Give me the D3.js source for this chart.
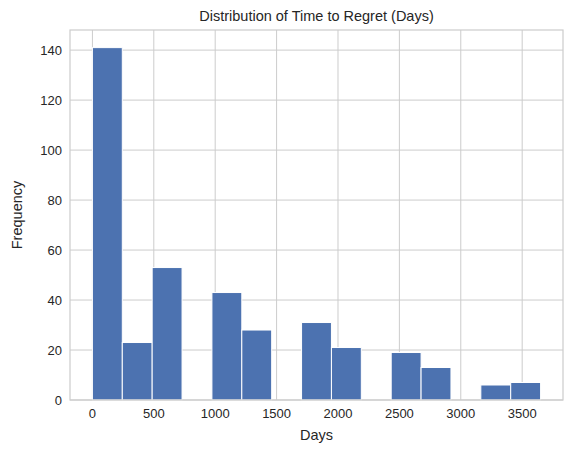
<!DOCTYPE html>
<html><head><meta charset="utf-8">
<script src="https://cdn.jsdelivr.net/npm/d3@7"></script>
<style>body{margin:0;background:#fff;font-family:"Liberation Sans",Arial,sans-serif}</style>
</head><body><svg id="c" width="575" height="457"></svg>
<script>
const binStart = 0, binEnd = 3650;
const counts = [141, 23, 53, 0, 43, 28, 0, 31, 21, 0, 19, 13, 0, 6, 7];
const xTicks = [0, 500, 1000, 1500, 2000, 2500, 3000, 3500];
const yTicks = [0, 20, 40, 60, 80, 100, 120, 140];

const svg = d3.select("#c");
const L = 70, R = 563, T = 30, B = 400;
const pad = (binEnd - binStart) * 0.05;
const x = d3.scaleLinear().domain([binStart - pad, binEnd + pad]).range([L, R]);
const y = d3.scaleLinear().domain([0, d3.max(counts) * 1.05]).range([B, T]);
const bw = (binEnd - binStart) / counts.length;

svg.append("g").selectAll("line").data(xTicks).join("line")
  .attr("x1", d => x(d)).attr("x2", d => x(d)).attr("y1", T).attr("y2", B)
  .attr("stroke", "#cccccc").attr("stroke-width", 1);
svg.append("g").selectAll("line").data(yTicks).join("line")
  .attr("y1", d => y(d)).attr("y2", d => y(d)).attr("x1", L).attr("x2", R)
  .attr("stroke", "#cccccc").attr("stroke-width", 1);

svg.append("g").selectAll("rect").data(counts).join("rect")
  .attr("x", (d, i) => x(binStart + i * bw))
  .attr("width", (d, i) => x(binStart + (i + 1) * bw) - x(binStart + i * bw))
  .attr("y", d => y(d)).attr("height", d => B - y(d))
  .attr("fill", "#4c72b0").attr("stroke", "#ffffff").attr("stroke-width", 1);

svg.append("rect").attr("x", L).attr("y", T).attr("width", R - L).attr("height", B - T)
  .attr("fill", "none").attr("stroke", "#cccccc").attr("stroke-width", 1.2);

svg.append("g").selectAll("text").data(xTicks).join("text")
  .attr("x", d => x(d)).attr("y", B + 18).attr("text-anchor", "middle")
  .attr("font-size", 13).attr("fill", "#262626").text(d => d);
svg.append("g").selectAll("text").data(yTicks).join("text")
  .attr("x", L - 8).attr("y", d => y(d) + 4.5).attr("text-anchor", "end")
  .attr("font-size", 13).attr("fill", "#262626").text(d => d);

svg.append("text").attr("x", (L + R) / 2).attr("y", 21).attr("text-anchor", "middle")
  .attr("font-size", 14.5).attr("fill", "#262626").text("Distribution of Time to Regret (Days)");
svg.append("text").attr("x", (L + R) / 2).attr("y", 440).attr("text-anchor", "middle")
  .attr("font-size", 14.5).attr("fill", "#262626").text("Days");
svg.append("text").attr("transform", `translate(22,${(T + B) / 2}) rotate(-90)`).attr("text-anchor", "middle")
  .attr("font-size", 14.5).attr("fill", "#262626").text("Frequency");
</script></body></html>
